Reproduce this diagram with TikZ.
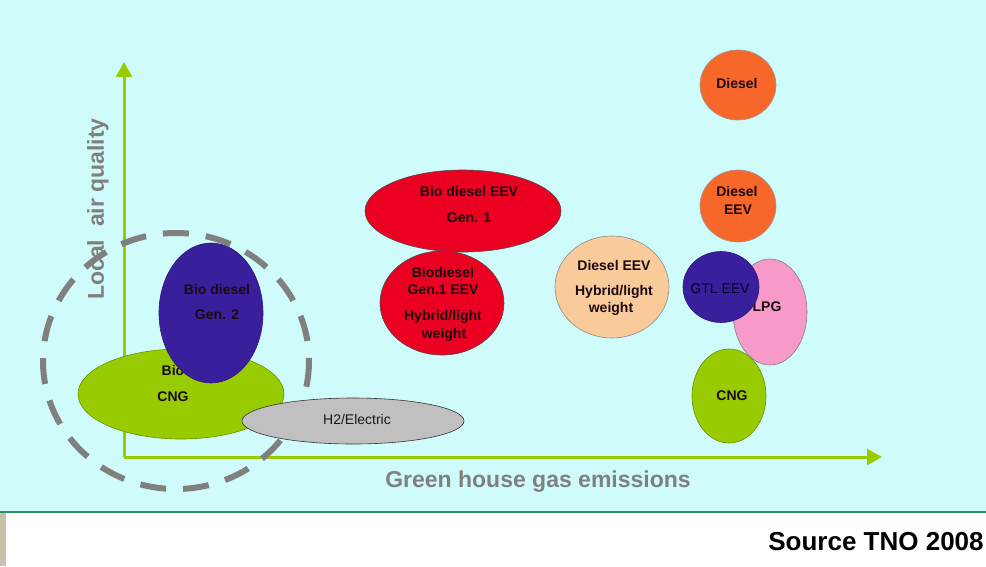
\documentclass[tikz,border=0pt]{standalone}
\usepackage{fontspec}
\setmainfont{Liberation Sans}
\usetikzlibrary{shapes.geometric,arrows.meta}
\definecolor{bgcyan}{HTML}{CFFBFB}
\definecolor{axgreen}{HTML}{99CC00}
\definecolor{limegreen}{HTML}{99CC00}
\definecolor{navyblue}{HTML}{3A1F9C}
\definecolor{brightred}{HTML}{EC0022}
\definecolor{orangec}{HTML}{F8672A}
\definecolor{pinkc}{HTML}{F79ACA}
\definecolor{peachc}{HTML}{FACB9A}
\definecolor{greyc}{HTML}{C0C0C0}
\definecolor{labgrey}{HTML}{808080}
\definecolor{sepgreen}{HTML}{2F8F5F}
\definecolor{stripc}{HTML}{C8C3A8}
\definecolor{darktxt}{HTML}{1A0A10}
\tikzset{
  blob/.style={ellipse, inner sep=0pt, draw=black!55, line width=0.6pt},
  txt/.style={font=\fontsize{14}{17}\selectfont\bfseries, text=darktxt, inner sep=0pt, text height=10pt, text depth=3pt},
  txtreg/.style={font=\fontsize{14}{17}\selectfont, text=black!90, inner sep=0pt, text height=10pt, text depth=3pt},
  axislab/.style={font=\fontsize{23}{27}\selectfont\bfseries, text=labgrey, inner sep=0pt},
  axisline/.style={draw=axgreen, line width=3pt, -{Triangle[width=16pt,length=15pt]}}
}
\begin{document}
\begin{tikzpicture}[x=1pt,y=-1pt]
\useasboundingbox (0,0) rectangle (986,566);
% background
\fill[bgcyan] (0,0) rectangle (986,512);
\fill[white] (0,512) rectangle (986,566);
\fill[stripc] (0,513) rectangle (6,566);
\draw[sepgreen, line width=1.2pt] (0,512) -- (986,512);
% axes
\coordinate (origin) at (124,457);
\coordinate (ytip) at (124,62);
\coordinate (xtip) at (882,457);
\draw[axisline] (origin) -- (ytip);
\draw[axisline] (origin) -- (xtip);
\node[axislab, rotate=90] (ylab) at (98,209) {Local\ \ air quality};
\node[axislab] (xlab) at (538,482) {Green house gas emissions};
% left cluster
\node[blob, fill=limegreen, draw=limegreen!70!black, minimum width=206pt, minimum height=90pt] (biocng) at (181,394) {};
\node[txt] (biocngA) at (173,372) {Bio};
\node[txt] (biocngB) at (173,398) {CNG};
\node[blob, fill=navyblue, draw=navyblue!80!black, minimum width=104pt, minimum height=140pt] (biod2) at (211,313) {};
\node[txt] (biod2A) at (217,291) {Bio diesel};
\node[txt] (biod2B) at (217,316) {Gen. 2};
\draw[labgrey, line width=6pt, dash pattern=on 26pt off 17pt] (176,361) ellipse [x radius=133, y radius=128];
\node[blob, fill=greyc, draw=black!80, minimum width=222pt, minimum height=46pt] (h2) at (353,421) {};
\node[txtreg] (h2t) at (357,421) {H2/Electric};
% middle
\node[blob, fill=brightred, draw=black!70, minimum width=196pt, minimum height=82pt] (bioeev) at (463,211) {};
\node[txt] (bioeevA) at (469,193) {Bio diesel EEV};
\node[txt] (bioeevB) at (469,219) {Gen. 1};
\node[blob, fill=brightred, draw=black!70, minimum width=124pt, minimum height=104pt] (biohyb) at (442,303) {};
\node[txt] (biohybA) at (443,274) {Biodiesel};
\node[txt] (biohybB) at (443,291) {Gen.1 EEV};
\node[txt] (biohybC) at (443,317) {Hybrid/light};
\node[txt] (biohybD) at (444,335) {weight};
\node[blob, fill=peachc, draw=black!45, minimum width=114pt, minimum height=102pt] (dhyb) at (612,287) {};
\node[txt] (dhybA) at (614,267) {Diesel EEV};
\node[txt] (dhybB) at (614,292) {Hybrid/light};
\node[txt] (dhybC) at (611,309) {weight};
% right column
\node[blob, fill=orangec, draw=black!40, minimum width=76pt, minimum height=70pt] (diesel) at (738,85) {};
\node[txt] (dieselt) at (737,85) {Diesel};
\node[blob, fill=orangec, draw=black!40, minimum width=76pt, minimum height=72pt] (deev) at (738,206) {};
\node[txt] (deevA) at (737,193) {Diesel};
\node[txt] (deevB) at (738,211) {EEV};
\node[blob, fill=pinkc, draw=black!50, minimum width=74pt, minimum height=106pt] (lpg) at (770,312) {};
\node[txt] (lpgt) at (767,308) {LPG};
\node[blob, fill=navyblue, draw=navyblue!80!black, minimum width=76pt, minimum height=71pt] (gtl) at (721,287) {};
\node[txtreg, text=black!85!blue] (gtlt) at (720,290) {GTL EEV};
\node[blob, fill=limegreen, draw=limegreen!70!black, minimum width=74pt, minimum height=94pt] (cng) at (729,396) {};
\node[txt] (cngt) at (732,397) {CNG};
% source
\node[font=\fontsize{26}{30}\selectfont\bfseries, inner sep=0pt] (src) at (876,542) {Source TNO 2008};
\end{tikzpicture}
\end{document}
